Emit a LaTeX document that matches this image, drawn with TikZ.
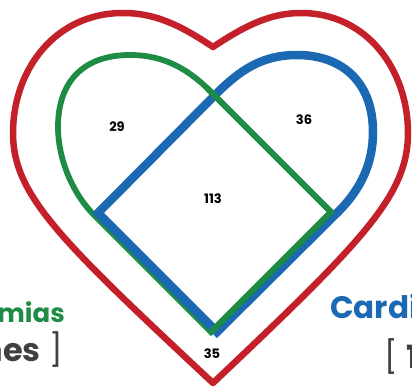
\documentclass[tikz,border=0pt]{standalone}
\usepackage{fontspec}
\setmainfont{Poppins}
\definecolor{hred}{RGB}{196,32,42}
\definecolor{hgreen}{RGB}{30,140,68}
\definecolor{hblue}{RGB}{27,105,178}
\definecolor{hgray}{RGB}{64,64,64}
\begin{document}
\begin{tikzpicture}[x=1pt,y=-1pt,
  redline/.style={draw=hred,line width=6.5pt,line join=round},
  greenline/.style={draw=hgreen,line width=5.8pt,line join=miter},
  blueline/.style={draw=hblue,line width=8.5pt,line join=miter},
  num/.style={font=\bfseries\fontsize{13}{13}\selectfont,text=black,inner sep=0pt},
  lbl/.style={inner sep=0pt}]
\useasboundingbox (0,0) rectangle (412,390);
% red outer heart
\draw[redline] (213,47) .. controls (180,25) and (155,13) .. (123,13)
  .. controls (55,13) and (13,70) .. (13,133)
  .. controls (13,195) and (60,240) .. (213,383)
  .. controls (364,240) and (408,195) .. (408,133)
  .. controls (408,70) and (367,13) .. (301,13)
  .. controls (271,13) and (246,25) .. cycle;
% green set
\draw[greenline] (93,214) .. controls (71,191) and (58,157) .. (58,127)
  .. controls (58,80) and (85,55) .. (130,55)
  .. controls (165,55) and (190,70) .. (213,94)
  -- (331,212) -- (211,332) -- cycle;
% blue set
\draw[blueline] (215,95) .. controls (240,70) and (262,55) .. (297,55)
  .. controls (342,55) and (373,82) .. (373,132)
  .. controls (373,162) and (362,188) .. (338,212)
  -- (217,332) -- (98,213) -- cycle;
% green edges on top
\draw[greenline,line cap=round] (207,88) -- (213,94) -- (331,212) -- (211,332);
% numbers
\node[num] (n29) at (117,127) {29};
\node[num] (n36) at (304,120) {36};
\node[num] (n113) at (213,199) {113};
\node[num] (n35) at (212,354) {35};
% labels
\node[lbl,anchor=base east,text=hgreen,font=\bfseries\fontsize{26}{26}\selectfont] (lg) at (65,322) {mias};
\node[lbl,anchor=base east,text=hgray,font=\fontsize{32}{32}\selectfont] (lgn) at (63,361) {{\bfseries nes} ]};
\node[lbl,anchor=base west,text=hblue,font=\bfseries\fontsize{31}{31}\selectfont] (lb) at (330,318) {Cardi};
\node[lbl,anchor=base west,text=hgray,font=\fontsize{32}{32}\selectfont] (lbn) at (384,368) {[ {\bfseries 1}};
\end{tikzpicture}
\end{document}
